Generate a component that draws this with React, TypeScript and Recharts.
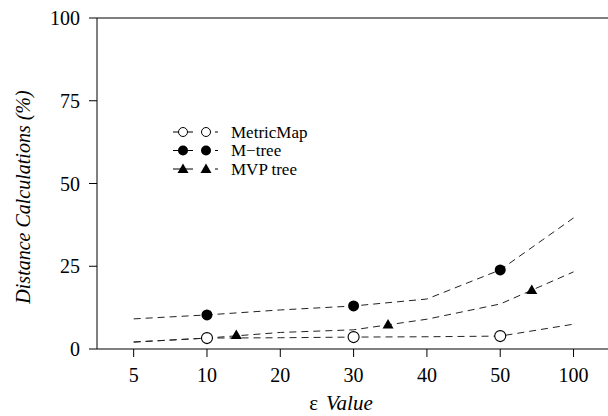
import React from "react"
import { ComposedChart, Line, Scatter, XAxis, YAxis, ReferenceLine } from "recharts"

const categories = ["5", "10", "20", "30", "40", "50", "100"]
const metricMap = [2.1, 3.3, 3.4, 3.6, 3.7, 3.9, 7.5]
const mTree = [9.1, 10.3, 11.8, 13.0, 15.1, 23.9, 39.6]
const mvpTree = [2.1, 3.3, 5.0, 5.8, 9.0, 13.6, 23.3]

// markers sit at a few spots along each curve
const metricMarkPos = [1, 3, 5]
const metricMarkVal = [3.3, 3.6, 3.9]
const mTreeMarkPos = [1, 3, 5]
const mTreeMarkVal = [10.3, 13.0, 23.9]
const mvpMarkPos = [1.4, 3.47, 5.43]
const mvpMarkVal = [4.2, 7.4, 17.8]

const yTicks = [0, 25, 50, 75, 100]

const serif = { fontFamily: "Liberation Serif" }
const DASH = "7 5"

const rows = categories.map((c, i) => ({
  pos: i,
  metric: metricMap[i],
  mtree: mTree[i],
  mvp: mvpTree[i],
}))

const marks = (pos: number[], val: number[]) => pos.map((p, i) => ({ pos: p, v: val[i] }))

const OpenCircle = (p: any) => <circle cx={p.cx} cy={p.cy} r={5.5} fill="#fff" stroke="#000" strokeWidth={1.1} />
const FilledCircle = (p: any) => <circle cx={p.cx} cy={p.cy} r={5.5} fill="#000" />
const Tri = (p: any) => (
  <polygon points={`${p.cx - 5.5},${p.cy + 4} ${p.cx + 5.5},${p.cy + 4} ${p.cx},${p.cy - 5.5}`} fill="#000" />
)

const XTick = (p: any) => (
  <text x={p.x} y={p.y} dy={14} textAnchor="middle" fontSize={20} fill="#000" style={serif}>
    {categories[p.payload.value]}
  </text>
)
const YTick = (p: any) => (
  <text x={p.x} y={p.y} dy={7} textAnchor="end" fontSize={20} fill="#000" style={serif}>
    {p.payload.value}
  </text>
)

function LegendBox() {
  const items = [
    { name: "MetricMap", kind: "open" },
    { name: "M\u2212tree", kind: "filled" },
    { name: "MVP tree", kind: "tri" },
  ]
  const sym = (kind: string, x: number, y: number) => {
    if (kind === "open") return <circle cx={x} cy={y} r={4.5} fill="#fff" stroke="#000" strokeWidth={1} />
    if (kind === "filled") return <circle cx={x} cy={y} r={5} fill="#000" />
    return <polygon points={`${x - 5.5},${y + 4} ${x + 5.5},${y + 4} ${x},${y - 5.5}`} fill="#000" />
  }
  return (
    <svg width={160} height={60} style={{ position: "absolute", left: 165, top: 120 }}>
      {items.map((it, i) => {
        const y = 12 + i * 18.5
        return (
          <g key={it.name}>
            <line x1={8} x2={28} y1={y} y2={y} stroke="#000" strokeWidth={1} />
            {sym(it.kind, 18, y)}
            {sym(it.kind, 41, y)}
            <line x1={50} x2={53} y1={y} y2={y} stroke="#000" strokeWidth={1} />
            <text x={66} y={y + 5.5} fontSize={17} fill="#000" style={serif}>
              {it.name}
            </text>
          </g>
        )
      })}
    </svg>
  )
}

export default function App() {
  return (
    <div style={{ position: "absolute", left: 0, top: 0, width: 608, height: 416, background: "#fff", ...serif }}>
      <ComposedChart width={608} height={416} data={rows} margin={{ top: 18, right: 0, bottom: 0, left: 0 }}>
        <XAxis
          type="number"
          dataKey="pos"
          domain={[-0.5, 6.47]}
          ticks={[0, 1, 2, 3, 4, 5, 6]}
          height={67}
          tickSize={8}
          tickMargin={11}
          stroke="#000"
          tick={XTick}
          allowDataOverflow
          label={{
            content: () => (
              <text x={341} y={410} textAnchor="middle" fontSize={21} fill="#000" style={serif}>
                <tspan>{"\u03b5"}</tspan>
                <tspan dx={8} fontStyle="italic">Value</tspan>
              </text>
            ),
          }}
        />
        <YAxis
          type="number"
          domain={[0, 100]}
          ticks={yTicks}
          width={97}
          tickSize={8}
          tickMargin={9}
          stroke="#000"
          tick={YTick}
          label={{
            content: () => (
              <text
                x={30}
                y={197}
                transform="rotate(-90 30 197)"
                textAnchor="middle"
                fontSize={20}
                fontStyle="italic"
                fill="#000"
                style={serif}
              >
                Distance Calculations (%)
              </text>
            ),
          }}
        />
        <ReferenceLine y={100} stroke="#000" strokeWidth={1} />
        <Line dataKey="metric" type="linear" stroke="#222" strokeDasharray={DASH} dot={false} isAnimationActive={false} />
        <Line dataKey="mtree" type="linear" stroke="#222" strokeDasharray={DASH} dot={false} isAnimationActive={false} />
        <Line dataKey="mvp" type="linear" stroke="#222" strokeDasharray={DASH} dot={false} isAnimationActive={false} />
        <Scatter data={marks(metricMarkPos, metricMarkVal)} dataKey="v" shape={OpenCircle} isAnimationActive={false} />
        <Scatter data={marks(mTreeMarkPos, mTreeMarkVal)} dataKey="v" shape={FilledCircle} isAnimationActive={false} />
        <Scatter data={marks(mvpMarkPos, mvpMarkVal)} dataKey="v" shape={Tri} isAnimationActive={false} />
      </ComposedChart>
      <LegendBox />
    </div>
  )
}
